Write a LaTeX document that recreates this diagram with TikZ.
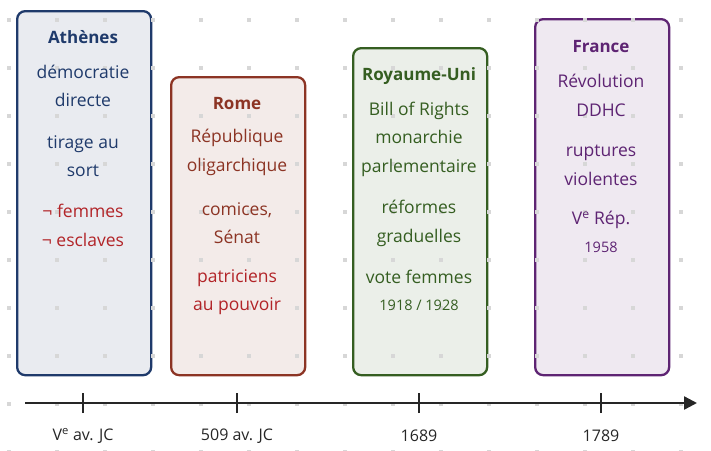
\documentclass[tikz,border=0pt]{standalone}
\usepackage{fontspec}
\setmainfont{Open Sans}
\usetikzlibrary{arrows.meta}
\definecolor{athblue}{RGB}{31, 58, 107}
\definecolor{romebrown}{RGB}{140, 52, 36}
\definecolor{ukgreen}{RGB}{53, 94, 33}
\definecolor{frpurple}{RGB}{94, 36, 115}
\definecolor{alertred}{RGB}{178, 36, 40}
\definecolor{dotgray}{RGB}{215, 215, 215}

\tikzset{
    era/.style={draw=#1, fill=#1!10, line width=2.3pt, rounded corners=8pt,
                minimum width=134, anchor=north west, inner sep=0pt},
    txt/.style={text=#1, align=center, inner sep=0pt,
                font=\fontsize{17.5}{28.5}\selectfont},
    title/.style={txt=#1, font=\fontsize{17}{28}\selectfont\bfseries},
    small/.style={txt=#1, font=\fontsize{14.5}{28}\selectfont},
    datelbl/.style={text=black!85, inner sep=0pt, font=\fontsize{16}{20}\selectfont},
}

\begin{document}
\begin{tikzpicture}[x=1pt, y=-1pt]
            \useasboundingbox (0, 0) rectangle (711, 450);
            % Boxes
            \node[era=athblue,   minimum height=364] (athenes) at ( 16, 10) {};
            \node[era=romebrown, minimum height=298] (rome)    at (170, 76) {};
            \node[era=ukgreen,   minimum height=327] (uk)      at (352, 47) {};
            \node[era=frpurple,  minimum height=356] (france)  at (534, 18) {};
            % Dot grid
            \foreach \i in {0,...,14}
                \foreach \j in {0,...,9}
                    \fill[dotgray] ({9+48*\i-1.7}, {20+48*\j-1.7}) rectangle +(3.4, 3.4);
            % Athenes
            \node[title=athblue]   (athT)  at ( 83,  37.0) {Athènes};
            \node[txt=athblue]     (athA)  at ( 83,  86.0) {démocratie\\directe};
            \node[txt=athblue]     (athB)  at ( 83, 156.0) {tirage au\\sort};
            \node[txt=alertred]    (athC)  at ( 83, 225.5) {¬ femmes\\¬ esclaves};
            % Rome
            \node[title=romebrown] (romT)  at (237, 104.0) {Rome};
            \node[txt=romebrown]   (romA)  at (237, 152.5) {République\\oligarchique};
            \node[txt=romebrown]   (romB)  at (237, 223.0) {comices,\\Sénat};
            \node[txt=alertred]    (romC)  at (237, 292.0) {patriciens\\au pouvoir};
            % Royaume-Uni
            \node[title=ukgreen]   (ukT)   at (419,  76.0) {Royaume-Uni};
            \node[txt=ukgreen]     (ukA)   at (419, 139.0) {Bill of Rights\\monarchie\\parlementaire};
            \node[txt=ukgreen]     (ukB)   at (419, 223.5) {réformes\\graduelles};
            \node[txt=ukgreen]     (ukC)   at (419, 277.0) {vote femmes};
            \node[small=ukgreen]   (ukD)   at (419, 305.0) {1918 / 1928};
            % France
            \node[title=frpurple]  (frT)   at (601,  47.0) {France};
            \node[txt=frpurple]    (frA)   at (601,  95.5) {Révolution\\DDHC};
            \node[txt=frpurple]    (frB)   at (601, 165.5) {ruptures\\violentes};
            \node[txt=frpurple]    (frC)   at (601, 220.0) {V\textsuperscript{e} Rép.};
            \node[small=frpurple]  (frD)   at (601, 247.0) {1958};
            % Time axis
            \coordinate (axisL) at ( 25, 403);
            \coordinate (axisR) at (697, 403);
            \draw[black!85, line width=2.4pt, -{Triangle[length=13pt, width=13pt]}] (axisL) -- (axisR);
            \foreach \x/\name in {83/t1, 237/t2, 419/t3, 601/t4} {
                \coordinate (\name) at (\x, 403);
                \draw[black!85, line width=2pt] ([yshift=-10pt]\name) -- ([yshift=10pt]\name);
            }
            % Dates
            \node[datelbl] (d1) at ( 83, 436) {V\textsuperscript{e} av. JC};
            \node[datelbl] (d2) at (237, 436) {509 av. JC};
            \node[datelbl] (d3) at (419, 436) {1689};
            \node[datelbl] (d4) at (601, 436) {1789};
        \end{tikzpicture}
\end{document}
